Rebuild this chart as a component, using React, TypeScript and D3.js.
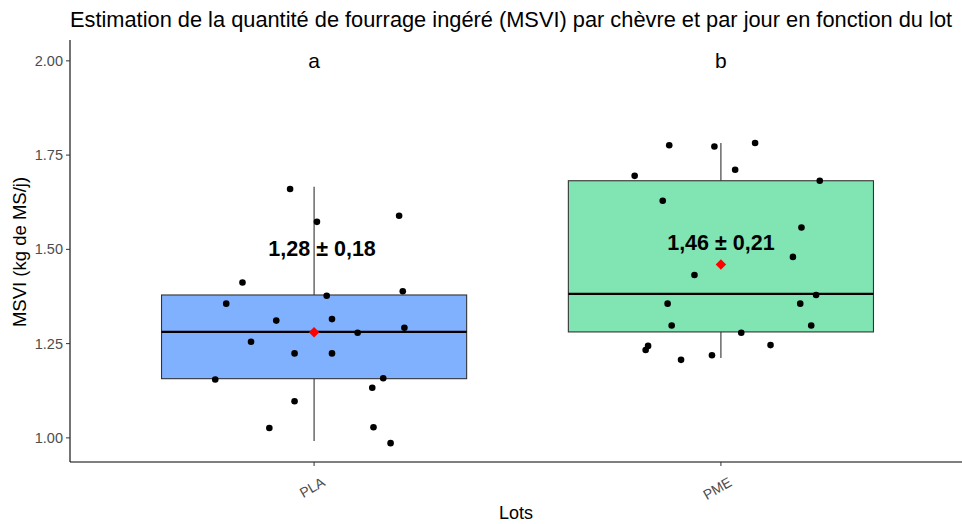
import React from "react";
import * as d3 from "d3";

const lots = ["PLA", "PME"];
const fills = ["#80b1ff", "#80e5b3"];
const letters = ["a", "b"];
const meanLabels = ["1,28 ± 0,18", "1,46 ± 0,21"];
const means = [1.28, 1.46];
// q: [lower whisker, Q1, median, Q3, upper whisker]
const boxStats = [
  [0.992, 1.157, 1.281, 1.379, 1.666],
  [1.212, 1.281, 1.382, 1.682, 1.782],
];
const yTicks = [1.0, 1.25, 1.5, 1.75, 2.0];

// jittered observations: value and horizontal jitter (in category units)
const plaValues = [1.66, 1.573, 1.589, 1.412, 1.356, 1.377, 1.389, 1.311, 1.315, 1.292, 1.279, 1.255, 1.224, 1.224, 1.155, 1.158, 1.133, 1.097, 1.026, 1.028, 0.986];
const plaJitter = [-0.059, 0.007, 0.209, -0.176, -0.216, 0.031, 0.218, -0.093, 0.044, 0.222, 0.107, -0.155, -0.048, 0.044, -0.243, 0.17, 0.143, -0.048, -0.11, 0.146, 0.188];
const pmeValues = [1.776, 1.773, 1.782, 1.711, 1.695, 1.682, 1.629, 1.558, 1.48, 1.432, 1.379, 1.356, 1.356, 1.298, 1.298, 1.279, 1.246, 1.244, 1.233, 1.207, 1.219];
const pmeJitter = [-0.127, -0.016, 0.084, 0.035, -0.212, 0.243, -0.143, 0.198, 0.177, -0.065, 0.234, -0.131, 0.195, -0.121, 0.222, 0.05, 0.122, -0.179, -0.185, -0.098, -0.022];

const W = 962;
const H = 524;
const font = "'Liberation Sans', Arial, sans-serif";

export default function App() {
  const left = 70;
  const top = 42;
  const bottom = 462;
  const x = d3.scaleLinear().domain([0.4, 2.6]).range([left, 965]);
  const y = d3.scaleLinear().domain([0.936, 2.05]).range([bottom, top]);
  const boxHalf = 0.375;
  const series = [
    { values: plaValues, jitter: plaJitter },
    { values: pmeValues, jitter: pmeJitter },
  ];
  const diamond = d3.symbol().type(d3.symbolDiamond2).size(70)();

  return (
    <svg width={W} height={H} style={{ position: "absolute", left: 0, top: 0, background: "#fff" }} fontFamily={font}>
      <text x={left} y={27} textAnchor="start" fontSize={21.8} fill="#000">
        Estimation de la quantité de fourrage ingéré (MSVI) par chèvre et par jour en fonction du lot
      </text>

      {lots.map((lot, i) => {
        const cx = x(i + 1);
        const [lo, q1, med, q3, hi] = boxStats[i];
        return (
          <g key={lot}>
            <line x1={cx} x2={cx} y1={y(hi)} y2={y(q3)} stroke="#333" strokeWidth={1.1} />
            <line x1={cx} x2={cx} y1={y(q1)} y2={y(lo)} stroke="#333" strokeWidth={1.1} />
            <rect x={x(i + 1 - boxHalf)} y={y(q3)} width={x(i + 1 + boxHalf) - x(i + 1 - boxHalf)} height={y(q1) - y(q3)}
              fill={fills[i]} stroke="#333" strokeWidth={1.1} />
            <line x1={x(i + 1 - boxHalf)} x2={x(i + 1 + boxHalf)} y1={y(med)} y2={y(med)} stroke="#000" strokeWidth={2.2} />
          </g>
        );
      })}

      {series.map((s, i) =>
        s.values.map((v, j) => (
          <circle key={`${i}-${j}`} cx={x(i + 1 + s.jitter[j])} cy={y(v)} r={3.3} fill="#000" />
        ))
      )}

      {lots.map((lot, i) => (
        <g key={`m-${lot}`}>
          <path d={diamond} transform={`translate(${x(i + 1)},${y(means[i])})`} fill="#ff0000" />
          <text x={x(i + 1) + (i === 0 ? 8 : 0)} y={y(means[i]) - (i === 0 ? 76 : 14)} textAnchor="middle" fontSize={21.5}
            fontWeight="bold" fill="#000">{meanLabels[i]}</text>
          <text x={x(i + 1)} y={y(2.0) + 7} textAnchor="middle" fontSize={21} fill="#000">{letters[i]}</text>
        </g>
      ))}

      {/* axes */}
      <line x1={left} x2={left} y1={top - 2} y2={bottom} stroke="#000" strokeWidth={1.1} />
      <line x1={left} x2={W} y1={bottom} y2={bottom} stroke="#000" strokeWidth={1.1} />
      {yTicks.map(t => (
        <g key={t}>
          <line x1={left - 4} x2={left} y1={y(t)} y2={y(t)} stroke="#333" />
          <text x={left - 7} y={y(t) + 5} textAnchor="end" fontSize={14.5} fill="#4d4d4d">{d3.format(".2f")(t)}</text>
        </g>
      ))}
      {lots.map((lot, i) => (
        <g key={`t-${lot}`}>
          <line x1={x(i + 1)} x2={x(i + 1)} y1={bottom} y2={bottom + 4} stroke="#333" />
          <text transform={`translate(${x(i + 1) + 12},${bottom + 23}) rotate(-30)`} textAnchor="end"
            fontSize={14} fill="#4d4d4d">{lot}</text>
        </g>
      ))}
      <text x={516} y={519} textAnchor="middle" fontSize={18} fill="#000">Lots</text>
      <text transform={`translate(26,${(top + bottom) / 2}) rotate(-90)`} textAnchor="middle" fontSize={18.5} fill="#000">
        MSVI (kg de MS/j)
      </text>
    </svg>
  );
}
